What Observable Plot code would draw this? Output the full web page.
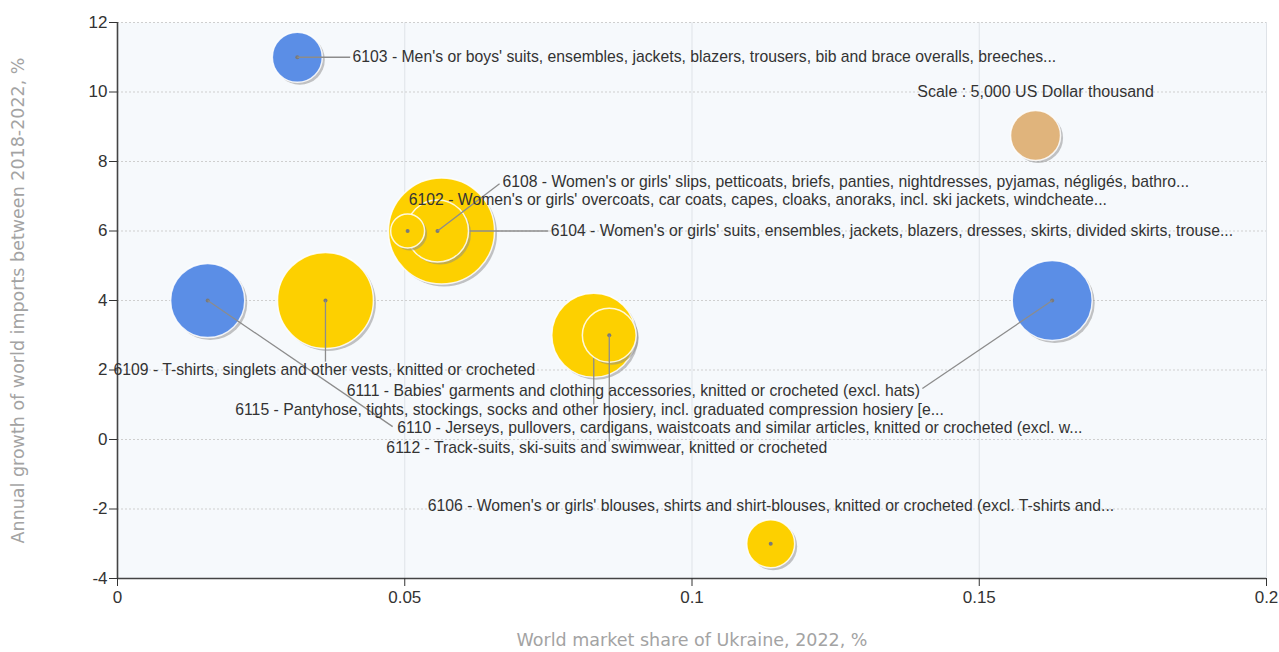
<!DOCTYPE html>
<html>
<head>
<meta charset="utf-8">
<script src="https://cdn.jsdelivr.net/npm/d3@7"></script>
<script src="https://cdn.jsdelivr.net/npm/@observablehq/plot@0.6"></script>
<style>
  html, body { margin: 0; padding: 0; background: #ffffff; }
  #chart { width: 1279px; height: 652px; }
</style>
</head>
<body>
<div id="chart"></div>
<script>
// ---- Data ----
const codes = ["6104", "6109", "6115", "6111", "6110", "6108", "6112", "6103", "6106", "6102"];
const names = [
  "Women's or girls' suits, ensembles, jackets, blazers, dresses, skirts, divided skirts, trouse...",
  "T-shirts, singlets and other vests, knitted or crocheted",
  "Pantyhose, tights, stockings, socks and other hosiery, incl. graduated compression hosiery [e...",
  "Babies' garments and clothing accessories, knitted or crocheted (excl. hats)",
  "Jerseys, pullovers, cardigans, waistcoats and similar articles, knitted or crocheted (excl. w...",
  "Women's or girls' slips, petticoats, briefs, panties, nightdresses, pyjamas, négligés, bathro...",
  "Track-suits, ski-suits and swimwear, knitted or crocheted",
  "Men's or boys' suits, ensembles, jackets, blazers, trousers, bib and brace overalls, breeches...",
  "Women's or girls' blouses, shirts and shirt-blouses, knitted or crocheted (excl. T-shirts and...",
  "Women's or girls' overcoats, car coats, capes, cloaks, anoraks, incl. ski jackets, windcheate..."
];
// World market share of Ukraine, 2022, %
const share = [0.0564, 0.0362, 0.0829, 0.1627, 0.0157, 0.0557, 0.0856, 0.0313, 0.1137, 0.0505];
// Annual growth of world imports between 2018-2022, %
const growth = [6, 4, 3, 4, 4, 6, 3, 11, -3, 6];
// Ukraine's imports, US Dollar thousand (bubble size)
const value = [22500, 18400, 14100, 12800, 11000, 7700, 5800, 5000, 4600, 2300];
// Bubble colour group
const group = ["yellow", "yellow", "yellow", "blue", "blue", "yellow", "yellow", "blue", "yellow", "yellow"];
// Label anchors (data units)
const labelX = [0.0754, -0.0007, 0.0205, 0.0399, 0.0487, 0.0670, 0.0468, 0.0409, 0.0540, 0.0507];
const labelY = [6.0, 2.01, 0.86, 1.41, 0.32, 7.42, -0.23, 11.0, -1.9, 6.88];
// Leader line ends (data units), null = no leader line
const leadX = [0.0750, 0.0362, 0.0829, 0.1401, 0.0479, 0.0665, 0.0856, 0.0405, null, null];
const leadY = [6.0, 2.24, 1.01, 1.47, 0.37, 7.36, -0.06, 11.0, null, null];

// Scale bubble
const scaleValue = [5000];
const scaleX = [0.1598];
const scaleY = [8.75];
const scaleLabel = "Scale : 5,000 US Dollar thousand";
const scaleLabelY = 10.0;

const xTicks = [0, 0.05, 0.1, 0.15, 0.2];
const yTicks = [-4, -2, 0, 2, 4, 6, 8, 10, 12];
const xTitle = "World market share of Ukraine, 2022, %";
const yTitle = "Annual growth of world imports between 2018-2022, %";

const colors = { yellow: "#fdd000", blue: "#5b8ee6", scale: "#e0b47c" };

// ---- Build records ----
const rows = codes.map((c, i) => ({
  code: c,
  label: c + " - " + names[i],
  x: share[i], y: growth[i], value: value[i], group: group[i],
  lx: labelX[i], ly: labelY[i], ex: leadX[i], ey: leadY[i]
}));
const scaleRows = scaleValue.map((v, i) => ({ x: scaleX[i], y: scaleY[i], value: v, group: "scale" }));

// Draw order: biggest first; each bubble: shadow, disc, centre dot, leader line
const sorted = [...rows].sort((a, b) => b.value - a.value);
const bubbleMarks = [];
for (const d of sorted) {
  bubbleMarks.push(Plot.dot([d], { x: "x", y: "y", r: "value", fill: "#8a8a8a", fillOpacity: 0.5, stroke: "none", dx: 2.5, dy: 2.5 }));
  bubbleMarks.push(Plot.dot([d], { x: "x", y: "y", r: "value", fill: colors[d.group], stroke: "#ffffff", strokeWidth: 1.5, strokeOpacity: 0.85 }));
  bubbleMarks.push(Plot.dot([d], { x: "x", y: "y", r: 2, fill: "#7a7a7a", stroke: "none" }));
  if (d.ex != null) {
    bubbleMarks.push(Plot.link([d], { x1: "x", y1: "y", x2: "ex", y2: "ey", stroke: "#8c8c8c", strokeWidth: 1.3 }));
  }
}

const chart = Plot.plot({
  width: 1279,
  height: 652,
  marginLeft: 117,
  marginRight: 13,
  marginTop: 22,
  marginBottom: 74,
  style: { fontFamily: "Liberation Sans, Arial, sans-serif", background: "#ffffff", overflow: "visible" },
  x: { domain: [0, 0.2] },
  y: { domain: [-4, 12] },
  r: { type: "sqrt", domain: [0, 5000], range: [0, 25] },
  marks: [
    Plot.frame({ fill: "#f6f9fc", stroke: null }),
    Plot.gridX(xTicks, { stroke: "#dfe3e8", strokeOpacity: 1, strokeWidth: 1 }),
    Plot.gridY(yTicks, { stroke: "#cfcfcf", strokeOpacity: 1, strokeWidth: 1, strokeDasharray: "2,2" }),
    Plot.ruleX([0], { stroke: "#444", strokeWidth: 1.6 }),
    Plot.ruleY([-4], { stroke: "#444", strokeWidth: 1.6 }),
    Plot.axisY({ ticks: yTicks, tickFormat: d => String(d), tickSize: 8, tickPadding: 2, fontSize: 17, color: "#333", label: null }),
    Plot.axisX({ ticks: xTicks, tickFormat: d => String(d), tickSize: 8, tickPadding: 4, fontSize: 17, color: "#333", label: null }),
    // scale bubble
    Plot.dot(scaleRows, { x: "x", y: "y", r: "value", fill: "#8a8a8a", fillOpacity: 0.5, dx: 2.5, dy: 2.5 }),
    Plot.dot(scaleRows, { x: "x", y: "y", r: "value", fill: colors.scale, stroke: "#ffffff", strokeWidth: 1.5, strokeOpacity: 0.85 }),
    Plot.text(scaleRows, { x: "x", y: () => scaleLabelY, text: () => scaleLabel, fontSize: 16, fill: "#333", textAnchor: "middle", lineAnchor: "middle" }),
    ...bubbleMarks,
    Plot.text(rows, { x: "lx", y: "ly", text: "label", textAnchor: "start", lineAnchor: "middle", fontSize: 15.75, fill: "#333" }),
    Plot.text([xTitle], { frameAnchor: "bottom", dy: 62, lineAnchor: "middle", text: d => d, fontFamily: "DejaVu Sans, sans-serif", fontSize: 17.5, fill: "#a3a3a3" }),
    Plot.text([yTitle], { frameAnchor: "left", dx: -99, rotate: -90, lineAnchor: "middle", textAnchor: "middle", text: d => d, fontFamily: "DejaVu Sans, sans-serif", fontSize: 17.5, fill: "#a3a3a3" })
  ]
});
document.getElementById("chart").appendChild(chart);
</script>
</body>
</html>
